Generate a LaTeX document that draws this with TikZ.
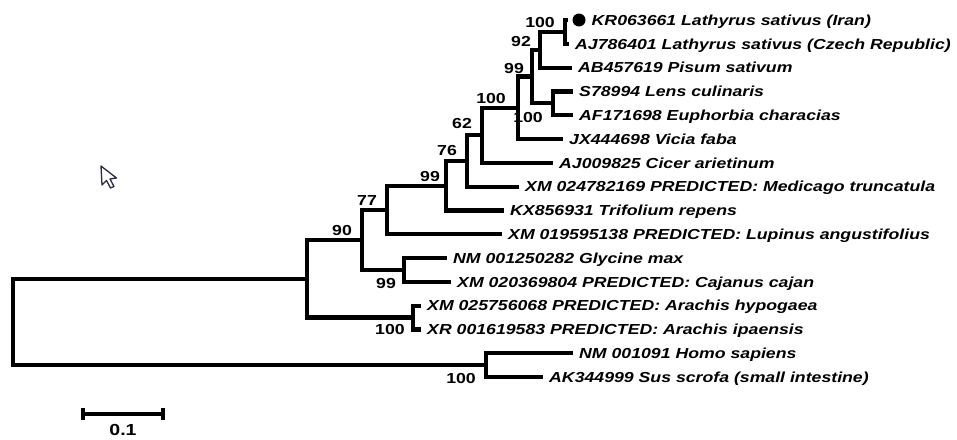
\documentclass[tikz,border=0pt]{standalone}
\usepackage{fontspec}
\setmainfont{Liberation Sans}[FakeStretch=1.22]
\usetikzlibrary{positioning,calc}
\definecolor{pointer}{HTML}{2B2B45}
\tikzset{branch/.style={line width=4.2pt,line join=miter},leaf/.style={anchor=west,inner xsep=6pt,inner ysep=0pt,text height=10.5pt,text depth=0pt,font=\fontsize{14.5}{14.5}\selectfont\bfseries\itshape},boot/.style={inner sep=0pt,text height=10.5pt,text depth=0pt,font=\fontsize{14.5}{14.5}\selectfont\bfseries},marker/.style={circle,fill=black,inner sep=0pt,minimum size=13pt,outer sep=5pt}}
\begin{document}
\begin{tikzpicture}[x=1pt,y=-1pt]
\useasboundingbox (0,0) rectangle (957,439);
% internal nodes
\coordinate (root) at (13,321.9);
\coordinate (nIn) at (307,278.7);
\coordinate (n90) at (362,240);
\coordinate (n77) at (387,210);
\coordinate (n99b) at (446,185.7);
\coordinate (n76) at (467,161);
\coordinate (n62) at (482,135.3);
\coordinate (n100) at (518,107.8);
\coordinate (n99) at (532,76.5);
\coordinate (n92) at (540,49.75);
\coordinate (nLat) at (565,31.9);
\coordinate (nLens) at (553,103.3);
\coordinate (nGly) at (404,269.9);
\coordinate (nAra) at (413,317.5);
\coordinate (nHum) at (486,365.1);
% leaves
\node[marker] (mk) at (579,20) {};
\node[leaf,inner xsep=1pt] (kr) at (mk.east) {KR063661 Lathyrus sativus (Iran)};
\node[leaf] (aj) at (569,43.8) {AJ786401 Lathyrus sativus (Czech Republic)};
\node[leaf] (ab) at (572,67.6) {AB457619 Pisum sativum};
\node[leaf] (lens) at (573,91.4) {S78994 Lens culinaris};
\node[leaf] (euph) at (573,115.2) {AF171698 Euphorbia characias};
\node[leaf] (vicia) at (563,139) {JX444698 Vicia faba};
\node[leaf] (cicer) at (553,162.8) {AJ009825 Cicer arietinum};
\node[leaf] (medi) at (519,186.6) {XM 024782169 PREDICTED: Medicago truncatula};
\node[leaf] (trif) at (504,210.4) {KX856931 Trifolium repens};
\node[leaf] (lupi) at (502,234.2) {XM 019595138 PREDICTED: Lupinus angustifolius};
\node[leaf] (glyc) at (447,258) {NM 001250282 Glycine max};
\node[leaf] (caja) at (451,281.8) {XM 020369804 PREDICTED: Cajanus cajan};
\node[leaf] (hypo) at (421,305.6) {XM 025756068 PREDICTED: Arachis hypogaea};
\node[leaf] (ipa) at (421,329.4) {XR 001619583 PREDICTED: Arachis ipaensis};
\node[leaf] (homo) at (573,353.2) {NM 001091 Homo sapiens};
\node[leaf] (sus) at (543,377) {AK344999 Sus scrofa (small intestine)};
% branches
\draw[branch] (root) |- (nIn); \draw[branch] (root) |- (nHum);
\draw[branch] (nIn) |- (n90); \draw[branch] (nIn) |- (nAra);
\draw[branch] (n90) |- (n77); \draw[branch] (n90) |- (nGly);
\draw[branch] (n77) |- (n99b); \draw[branch] (n77) |- (lupi.west);
\draw[branch] (n99b) |- (n76); \draw[branch] (n99b) |- (trif.west);
\draw[branch] (n76) |- (n62); \draw[branch] (n76) |- (medi.west);
\draw[branch] (n62) |- (n100); \draw[branch] (n62) |- (cicer.west);
\draw[branch] (n100) |- (n99); \draw[branch] (n100) |- (vicia.west);
\draw[branch] (n99) |- (n92); \draw[branch] (n99) |- (nLens);
\draw[branch] (n92) |- (nLat); \draw[branch] (n92) |- (ab.west);
\draw[branch] (nLat) |- (mk.west); \draw[branch] (nLat) |- (aj.west);
\draw[branch] (nLens) |- (lens.west); \draw[branch] (nLens) |- (euph.west);
\draw[branch] (nGly) |- (glyc.west); \draw[branch] (nGly) |- (caja.west);
\draw[branch] (nAra) |- (hypo.west); \draw[branch] (nAra) |- (ipa.west);
\draw[branch] (nHum) |- (homo.west); \draw[branch] (nHum) |- (sus.west);
% bootstrap values
\node[boot] (bLat) at (540,22) {100};
\node[boot] (b92) at (521,41) {92};
\node[boot] (b99) at (514,68) {99};
\node[boot] (b100) at (491,98) {100};
\node[boot] (bLens) at (528,117) {100};
\node[boot] (b62) at (462,123) {62};
\node[boot] (b76) at (447,150) {76};
\node[boot] (b99b) at (430,176) {99};
\node[boot] (b77) at (367,200) {77};
\node[boot] (b90) at (342,230) {90};
\node[boot] (bGly) at (386,283) {99};
\node[boot] (bAra) at (390,329) {100};
\node[boot] (bHum) at (461,378) {100};
% scale bar
\coordinate (s0) at (83,414); \coordinate (s1) at (163,414);
\draw[branch] (s0) -- (s1);
\draw[branch] ([yshift=6pt]s0) -- ([yshift=-6pt]s0);
\draw[branch] ([yshift=6pt]s1) -- ([yshift=-6pt]s1);
\node[boot,text height=11.5pt,font=\fontsize{16}{16}\selectfont\bfseries] (unit) at (123,429.5) {0.1};
% mouse pointer
\draw[pointer,fill=white,line width=1.3pt,line join=round] (101,166) -- (102,185) -- (106.5,180.5) -- (110.5,188) -- (114,186.5) -- (110,179) -- (116.5,178) -- cycle;
\end{tikzpicture}
\end{document}
